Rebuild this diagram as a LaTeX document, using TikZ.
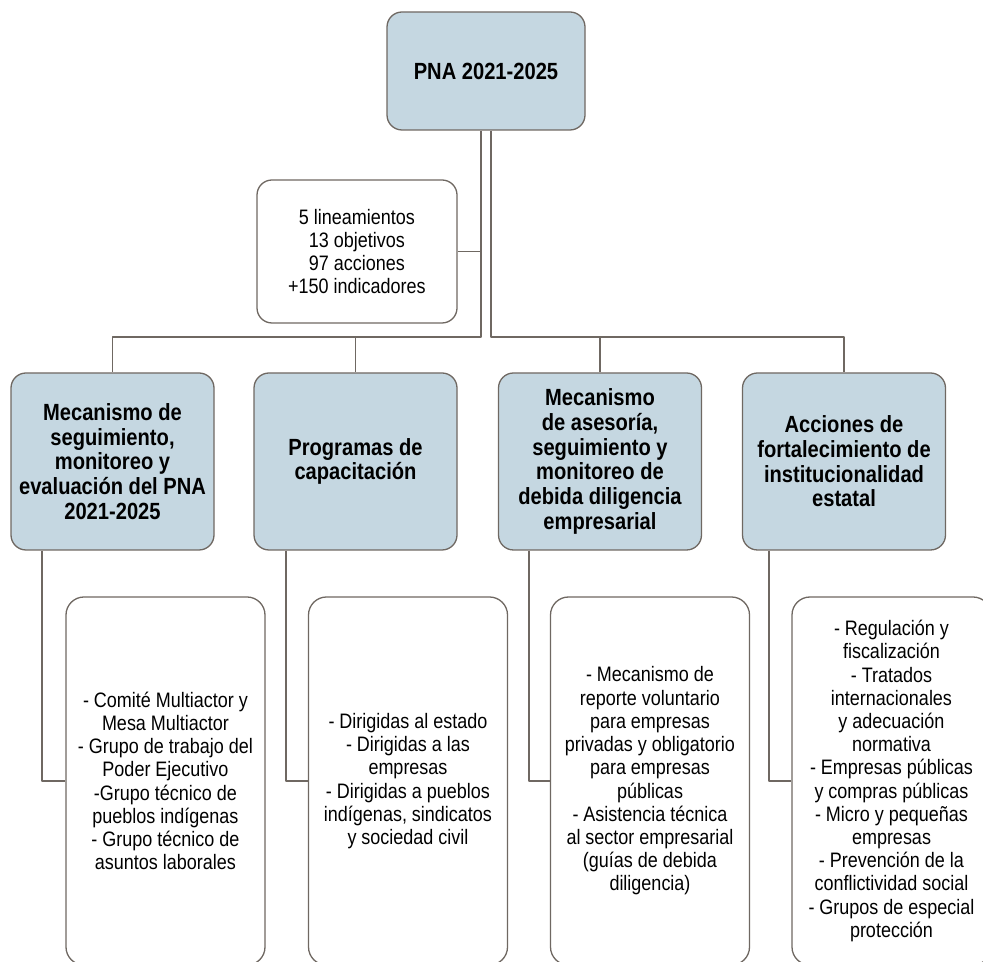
\documentclass[tikz,border=0pt]{standalone}
\usepackage{fontspec}
\setmainfont{Liberation Sans}[FakeStretch=0.86]
\definecolor{boxfill}{HTML}{C5D7E1}
\definecolor{boxline}{HTML}{6F6862}
\begin{document}
\begin{tikzpicture}[>=latex,line join=bevel,
  headbox/.style={draw=boxline,fill=boxfill,rounded corners=15bp,align=center,
    inner sep=0pt,minimum width=203bp,minimum height=177bp,
    font=\bfseries\fontsize{23.5}{24.8}\selectfont},
  listbox/.style={draw=boxline,fill=white,rounded corners=18bp,align=center,
    inner sep=0pt,minimum width=199bp,minimum height=368bp,
    font=\fontsize{21}{23.3}\selectfont},
  link/.style={draw=boxline}]
  \pgfsetlinewidth{1.3bp}
  \useasboundingbox (0bp,0bp) rectangle (983bp,962bp);
  \clip (0bp,0bp) rectangle (983bp,962bp);
%%
  % Node: top
  \node[headbox,minimum width=198bp,minimum height=118bp,
    font=\bfseries\fontsize{23.5}{28}\selectfont] (top) at (486bp,891bp) {PNA 2021-2025};
  % Node: info
  \node[listbox,rounded corners=15bp,minimum width=200bp,minimum height=143bp] (info) at (357bp,710.5bp)
    {5 lineamientos\\13 objetivos\\97 acciones\\+150 indicadores};
  % Hubs
  \coordinate (hubL) at (481bp,625bp);
  \coordinate (hubR) at (491bp,625bp);
  % Node: box1
  \node[headbox] (box1) at (112.5bp,500.5bp)
    {Mecanismo de\\seguimiento,\\monitoreo y\\evaluación del PNA\\2021-2025};
  % Node: box2
  \node[headbox] (box2) at (355.5bp,500.5bp) {Programas de\\capacitación};
  % Node: box3
  \node[headbox] (box3) at (600bp,500.5bp)
    {Mecanismo\\de asesoría,\\seguimiento y\\monitoreo de\\debida diligencia\\empresarial};
  % Node: box4
  \node[headbox] (box4) at (844bp,500.5bp)
    {Acciones de\\fortalecimiento de\\institucionalidad\\estatal};
  % Node: lowA
  \node[listbox] (lowA) at (165.5bp,181bp)
    {- Comité Multiactor y\\Mesa Multiactor\\- Grupo de trabajo del\\Poder Ejecutivo\\-Grupo técnico de\\pueblos indígenas\\- Grupo técnico de\\asuntos laborales};
  % Node: lowB
  \node[listbox] (lowB) at (408bp,181bp)
    {- Dirigidas al estado\\- Dirigidas a las\\empresas\\- Dirigidas a pueblos\\indígenas, sindicatos\\y sociedad civil};
  % Node: lowC
  \node[listbox] (lowC) at (650bp,181bp)
    {- Mecanismo de\\reporte voluntario\\para empresas\\privadas y obligatorio\\para empresas\\públicas\\- Asistencia técnica\\al sector empresarial\\(guías de debida\\diligencia)};
  % Node: lowD
  \node[listbox] (lowD) at (891.5bp,181bp)
    {- Regulación y\\fiscalización\\- Tratados\\internacionales\\y adecuación\\normativa\\- Empresas públicas\\y compras públicas\\- Micro y pequeñas\\empresas\\- Prevención de la\\conflictividad social\\- Grupos de especial\\protección};
%
  % Edge: top -> box1, box2
  \draw[link] (top.south -| hubL) -- (hubL) -| (box1.north);
  \draw[link] (hubL -| box2.north) -- (box2.north);
  % Edge: top -> box3, box4
  \draw[link] (top.south -| hubR) -- (hubR) -| (box4.north);
  \draw[link] (hubR -| box3.north) -- (box3.north);
  % Edge: info -> top
  \draw[link] (info.east) -- (info.east -| hubL);
  % Edge: box1 -> lowA
  \draw[link] ([xshift=-70.5bp]box1.south) |- (lowA.west);
  % Edge: box2 -> lowB
  \draw[link] ([xshift=-69.5bp]box2.south) |- (lowB.west);
  % Edge: box3 -> lowC
  \draw[link] ([xshift=-71bp]box3.south) |- (lowC.west);
  % Edge: box4 -> lowD
  \draw[link] ([xshift=-75bp]box4.south) |- (lowD.west);
%
\end{tikzpicture}
\end{document}
